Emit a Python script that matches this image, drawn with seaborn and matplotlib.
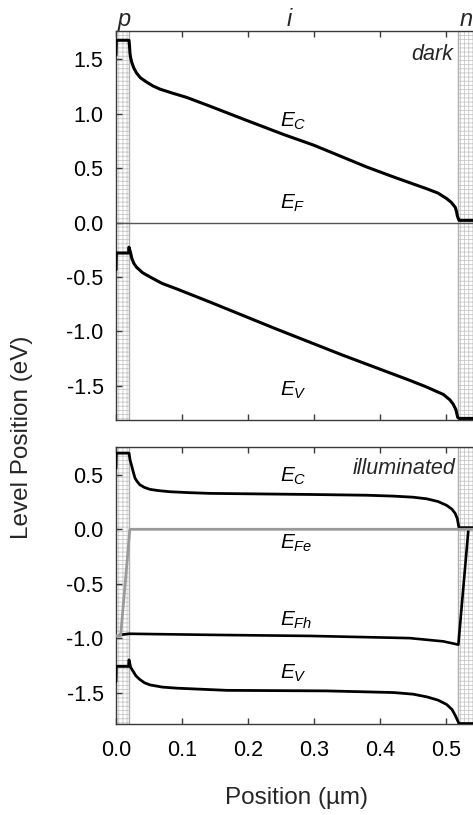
import numpy as np
import pandas as pd
import matplotlib
matplotlib.use("Agg")
import matplotlib.pyplot as plt
import seaborn as sns

# ---------------- data ----------------
# dark panel
x_ec_dark = [0.0, 0.0005, 0.0197, 0.0205, 0.0212, 0.022, 0.024, 0.027, 0.031,
             0.037, 0.0465, 0.056, 0.067, 0.085, 0.107, 0.142, 0.193, 0.2535,
             0.30, 0.344, 0.38, 0.42, 0.45, 0.471, 0.488, 0.501, 0.508, 0.514,
             0.516, 0.517, 0.519, 0.520, 0.55]
ec_dark = [1.54, 1.675, 1.675, 1.62, 1.555, 1.52, 1.47, 1.42, 1.375,
           1.33, 1.29, 1.255, 1.225, 1.19, 1.15, 1.07, 0.95, 0.81,
           0.71, 0.60, 0.51, 0.42, 0.355, 0.31, 0.27, 0.22, 0.185, 0.14,
           0.10, 0.065, 0.03, 0.02, 0.02]

x_ev_dark = [0.0, 0.0005, 0.019, 0.0197, 0.0223, 0.024, 0.027, 0.031, 0.040,
             0.0515, 0.070, 0.092, 0.142, 0.2435, 0.344, 0.445, 0.470, 0.496,
             0.506, 0.511, 0.515, 0.5177, 0.520, 0.55]
ev_dark = [-0.435, -0.28, -0.28, -0.227, -0.283, -0.33, -0.375, -0.41, -0.46,
           -0.50, -0.56, -0.61, -0.73, -0.98, -1.22, -1.45, -1.51, -1.58,
           -1.63, -1.67, -1.72, -1.79, -1.80, -1.80]

x_ef_dark = [0.0, 0.55]
ef_dark = [0.0, 0.0]

# illuminated panel
x_ec_ill = [0.0, 0.0005, 0.0197, 0.0205, 0.0212, 0.024, 0.0265, 0.0288, 0.032,
            0.036, 0.043, 0.0515, 0.065, 0.082, 0.11, 0.142, 0.294, 0.38,
            0.42, 0.45, 0.471, 0.488, 0.501, 0.509, 0.514, 0.517, 0.518,
            0.519, 0.5197, 0.55]
ec_ill = [0.56, 0.70, 0.70, 0.67, 0.64, 0.577, 0.52, 0.47, 0.44,
          0.41, 0.385, 0.367, 0.355, 0.345, 0.337, 0.33, 0.32, 0.313,
          0.305, 0.295, 0.28, 0.255, 0.22, 0.185, 0.145, 0.10, 0.07,
          0.035, 0.015, 0.015]

x_efe_ill = [0.0, 0.007, 0.021, 0.55]
efe_ill = [-0.98, -0.98, 0.0, 0.0]

x_efh_ill = [0.006, 0.0197, 0.142, 0.294, 0.445, 0.496, 0.5187, 0.534]
efh_ill = [-0.97, -0.96, -0.97, -0.98, -1.00, -1.03, -1.06, 0.0]

x_ev_ill = [0.0, 0.0005, 0.019, 0.0197, 0.0223, 0.026, 0.030, 0.036, 0.043,
            0.0515, 0.070, 0.092, 0.168, 0.319, 0.42, 0.45, 0.471, 0.488,
            0.501, 0.509, 0.514, 0.517, 0.5197, 0.55]
ev_ill = [-1.40, -1.26, -1.26, -1.20, -1.27, -1.305, -1.345, -1.38, -1.41,
          -1.43, -1.45, -1.46, -1.48, -1.485, -1.50, -1.515, -1.54, -1.57,
          -1.61, -1.655, -1.71, -1.75, -1.785, -1.785]

layer_labels = ["p", "i", "n"]
layer_label_x = [0.012, 0.263, 0.530]
p_layer = (0.0, 0.0197)
n_layer = (0.5187, 0.56)

x_ticks = [0.0, 0.1, 0.2, 0.3, 0.4, 0.5]
y_ticks_dark = [-1.5, -1.0, -0.5, 0.0, 0.5, 1.0, 1.5]
y_ticks_ill = [-1.5, -1.0, -0.5, 0.0, 0.5]

# ---------------- style ----------------
sns.set_theme(style="ticks")
plt.rcParams["font.family"] = ["Liberation Sans", "DejaVu Sans"]
plt.rcParams["mathtext.fontset"] = "custom"
plt.rcParams["mathtext.it"] = "Liberation Sans:italic"
plt.rcParams["mathtext.rm"] = "Liberation Sans"
plt.rcParams["mathtext.bf"] = "Liberation Sans:bold"
plt.rcParams["hatch.linewidth"] = 0.6

SPINE = "#3a3a3a"
HATCH = "#c8c8c8"

fig = plt.figure(figsize=(4.73, 8.15), dpi=100)
W, H = 473.0, 815.0
x_left = 116.0
px_per_um = 660.0
xmax = 0.55
ax_w = xmax * px_per_um / W

ax1 = fig.add_axes([x_left / W, (H - 419.5) / H, ax_w, (419.5 - 31.0) / H])
ax2 = fig.add_axes([x_left / W, (H - 724.3) / H, ax_w, (724.3 - 446.7) / H])


def shade(ax):
    for (a, b) in (p_layer, n_layer):
        ax.axvspan(a, b, facecolor="white", edgecolor=HATCH, hatch="++++",
                   linewidth=0, zorder=0.5)
        ax.axvline(b if a == 0 else a, color="#b0b0b0", lw=1.0, zorder=0.6)


def line(ax, x, y, color="black", lw=2.2, z=3):
    df = pd.DataFrame({"x": x, "y": y})
    sns.lineplot(data=df, x="x", y="y", ax=ax, color=color, lw=lw,
                 sort=False, estimator=None, zorder=z, legend=False)


for ax in (ax1, ax2):
    shade(ax)

# dark panel curves
line(ax1, x_ef_dark, ef_dark, color="#555555", lw=1.0, z=2)
line(ax1, x_ec_dark, ec_dark)
line(ax1, x_ev_dark, ev_dark)

# illuminated panel curves
line(ax2, x_efh_ill, efh_ill, lw=1.9)
line(ax2, x_efe_ill, efe_ill, color="#9a9a9a", lw=2.0, z=4)
line(ax2, x_ec_ill, ec_ill, lw=2.0)
line(ax2, x_ev_ill, ev_ill, lw=2.0)

ax1.set_ylim(-1.81, 1.76)
ax2.set_ylim(-1.792, 0.759)
for ax, yt in ((ax1, y_ticks_dark), (ax2, y_ticks_ill)):
    ax.set_xlim(0, xmax)
    ax.set_xticks(x_ticks)
    ax.set_yticks(yt)
    ax.set_yticklabels([f"{v:.1f}" for v in yt])
    ax.set_xlabel("")
    ax.set_ylabel("")
    ax.tick_params(direction="in", length=4, width=1, color=SPINE,
                   labelsize=15.5, top=True, right=False, labelcolor="black")
    ax.tick_params(axis="y", pad=9)
    ax.tick_params(axis="x", pad=11)
    for s in ax.spines.values():
        s.set_color(SPINE)
        s.set_linewidth(1.0)
        s.set_visible(True)
    ax.set_facecolor("white")

ax1.tick_params(labelbottom=False)
ax2.set_xticklabels([f"{v:.1f}" for v in x_ticks])

# band labels
lab_kw = dict(fontsize=15, ha="left", va="baseline", color="black", zorder=5)
ax1.text(0.248, 0.885, r"$E_{C}$", **lab_kw)
ax1.text(0.248, 0.13, r"$E_{F}$", **lab_kw)
ax1.text(0.248, -1.59, r"$E_{V}$", **lab_kw)
ax2.text(0.248, 0.44, r"$E_{C}$", **lab_kw)
ax2.text(0.248, -0.18, r"$E_{Fe}$", **lab_kw)
ax2.text(0.248, -0.89, r"$E_{Fh}$", **lab_kw)
ax2.text(0.248, -1.37, r"$E_{V}$", **lab_kw)

ax1.text(0.511, 1.49, "dark", fontsize=15.5, style="italic", ha="right",
         va="baseline", zorder=5)
ax2.text(0.514, 0.506, "illuminated", fontsize=15.5, style="italic",
         ha="right", va="baseline", zorder=5)

for lbl, xl in zip(layer_labels, layer_label_x):
    ax1.text(xl, 1.81, lbl, fontsize=17, style="italic", ha="center",
             va="baseline", clip_on=False)

fig.text(22 / W, 1 - 437 / H, "Level Position (eV)", rotation=90,
         ha="center", va="center", fontsize=17.5)
fig.text(296.5 / W, 1 - 798 / H, "Position (µm)", ha="center", va="center",
         fontsize=17.5)

fig.savefig("out.png", dpi=100)
